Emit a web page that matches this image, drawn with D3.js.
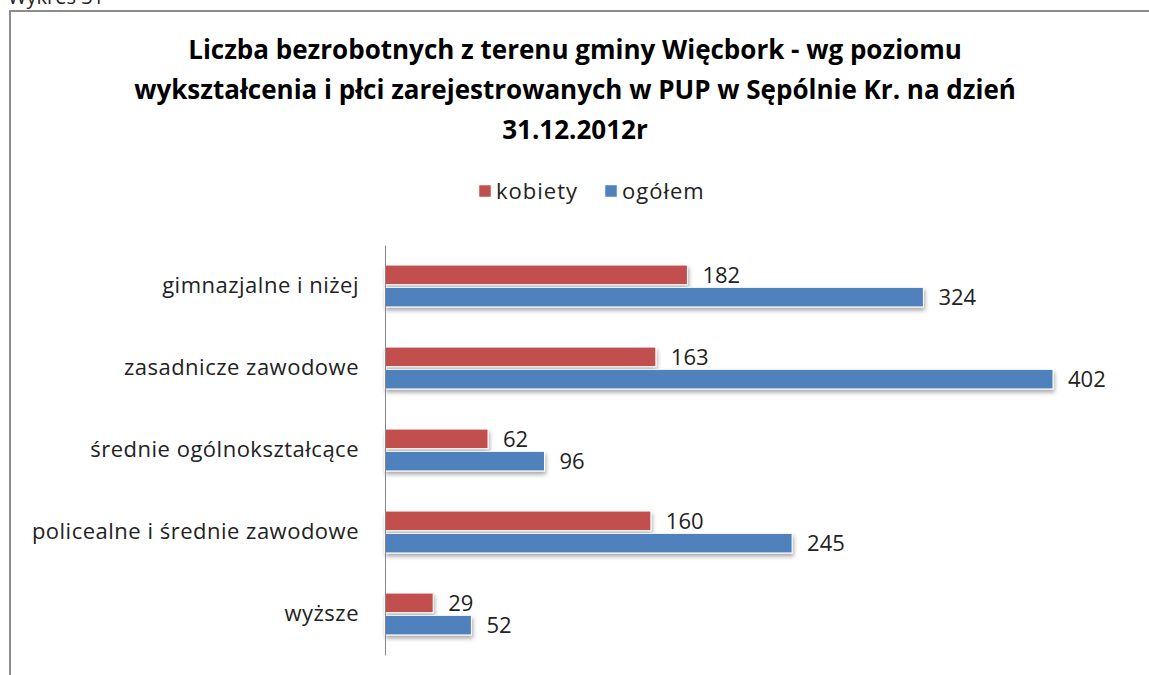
<!DOCTYPE html>
<html>
<head>
<meta charset="utf-8">
<script src="https://cdn.jsdelivr.net/npm/d3@7"></script>
<style>
  body { margin: 0; background: #fff; }
  svg { display: block; font-family: "Open Sans", Lato, sans-serif; }
</style>
</head>
<body>
<div id="chart"></div>
<script>
// data
var categories = ["gimnazjalne i niżej", "zasadnicze zawodowe", "średnie ogólnokształcące",
                  "policealne i średnie zawodowe", "wyższe"];
var kobiety = [182, 163, 62, 160, 29];
var ogolem = [324, 402, 96, 245, 52];
var seriesNames = ["kobiety", "ogółem"];
var seriesColors = ["#c0504d", "#4f81bd"];
var titleLines = ["Liczba bezrobotnych z terenu gminy Więcbork - wg poziomu",
                  "wykształcenia i płci zarejestrowanych w PUP w Sępólnie Kr. na dzień",
                  "31.12.2012r"];

var W = 1149, H = 675;
var margin = {top: 245, left: 385, bottom: 20, right: 96};

var svg = d3.select("#chart").append("svg")
    .attr("width", W)
    .attr("height", H);

var defs = svg.append("defs");
var f = defs.append("filter").attr("id", "shadow")
    .attr("x", "-5%").attr("y", "-20%").attr("width", "115%").attr("height", "170%");
f.append("feDropShadow").attr("dx", 1).attr("dy", 3).attr("stdDeviation", 2)
    .attr("flood-color", "#000").attr("flood-opacity", 0.35);

// caption above the frame, mostly cut off by the crop
svg.append("text")
    .attr("x", 8).attr("y", 4)
    .attr("font-size", 20)
    .attr("fill", "#222")
    .text("Wykres 31");

// frame (only top and left visible in the crop)
svg.append("path")
    .attr("d", "M10," + H + "V11H" + W)
    .attr("fill", "none")
    .attr("stroke", "#8c8c8c")
    .attr("stroke-width", 2);

// title
svg.append("g").selectAll("text")
    .data(titleLines)
    .enter().append("text")
    .attr("x", 575)
    .attr("y", function(d, i) { return 59 + i * 40; })
    .attr("text-anchor", "middle")
    .attr("font-size", 26)
    .attr("font-weight", "bold")
    .attr("fill", "#000")
    .text(function(d) { return d; });

// legend
var legend = svg.append("g").attr("transform", "translate(479,185)");
var lx = [0, 126];
seriesNames.forEach(function(name, i) {
    var g = legend.append("g").attr("transform", "translate(" + lx[i] + ",0)");
    g.append("rect").attr("width", 12).attr("height", 12)
        .attr("fill", seriesColors[i]).attr("stroke", "#fff").attr("stroke-width", 0.5);
    g.append("text").attr("x", 17).attr("y", 14)
        .attr("font-size", 22).attr("letter-spacing", 1)
        .attr("fill", "#222").text(name);
});

var x = d3.scaleLinear().domain([0, 402]).range([margin.left, margin.left + 668]);
var y = d3.scaleBand().domain(categories).range([margin.top, H - margin.bottom]);
var sub = d3.scaleBand().domain([0, 1]).range([0, y.bandwidth()]).paddingInner(0.12).paddingOuter(0.9);

var rows = categories.map(function(c, i) { return {cat: c, vals: [kobiety[i], ogolem[i]]}; });

var row = svg.append("g").selectAll("g")
    .data(rows)
    .enter().append("g")
    .attr("transform", function(d) { return "translate(0," + y(d.cat) + ")"; });

row.selectAll("rect")
    .data(function(d) { return d.vals; })
    .enter().append("rect")
    .attr("x", x(0))
    .attr("y", function(d, i) { return sub(i); })
    .attr("width", function(d) { return x(d) - x(0); })
    .attr("height", sub.bandwidth())
    .attr("fill", function(d, i) { return seriesColors[i]; })
    .attr("stroke", "#fff")
    .attr("stroke-width", 1)
    .attr("filter", "url(#shadow)");

row.selectAll("text.val")
    .data(function(d) { return d.vals; })
    .enter().append("text")
    .attr("class", "val")
    .attr("x", function(d) { return x(d) + 15; })
    .attr("y", function(d, i) { return sub(i) + sub.bandwidth() / 2; })
    .attr("dy", "0.36em")
    .attr("font-size", 22)
    .attr("fill", "#222")
    .text(function(d) { return d; });

// category axis
var yAxis = d3.axisLeft(y).tickSize(0).tickPadding(26);
var ax = svg.append("g")
    .attr("transform", "translate(" + x(0) + ",0)")
    .call(yAxis);
ax.select(".domain").attr("stroke", "#868686");
ax.selectAll("text")
    .attr("font-size", 22)
    .attr("letter-spacing", 0.5)
    .attr("font-family", "'Open Sans', Lato, sans-serif")
    .attr("fill", "#222");
</script>
</body>
</html>
